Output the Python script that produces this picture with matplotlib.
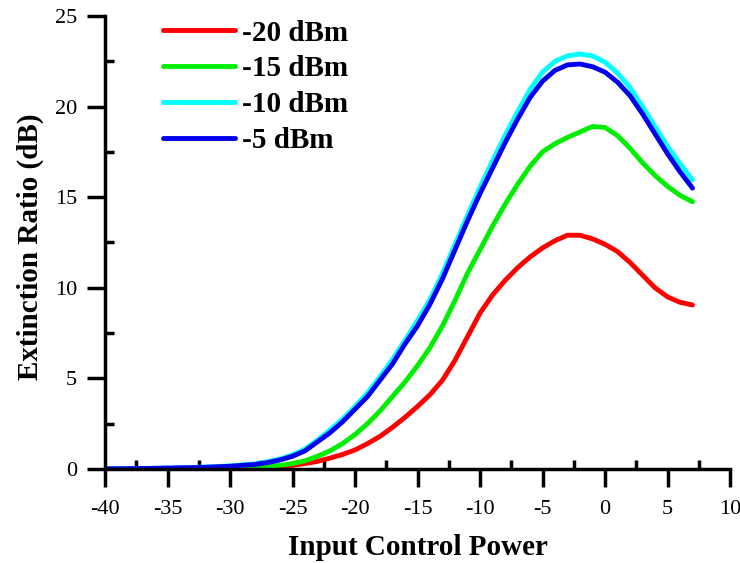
import matplotlib
matplotlib.use("Agg")
import matplotlib.pyplot as plt
from matplotlib.ticker import MultipleLocator

plt.rcParams['font.family'] = ['Liberation Serif', 'DejaVu Serif']
plt.rcParams['axes.unicode_minus'] = False

# input control power (dBm)
power = [-40, -37.5, -35, -32.5, -30, -28, -27, -26, -25, -24, -23, -22, -21, -20,
         -19, -18, -17, -16, -15, -14, -13, -12, -11, -10, -9, -8, -7, -6, -5,
         -4, -3, -2, -1, 0, 1, 2, 3, 4, 5, 6, 7]

# extinction ratio (dB) for each probe power
er_m20 = [0, 0.01, 0.02, 0.03, 0.05, 0.08, 0.1, 0.13, 0.2, 0.3, 0.42, 0.6, 0.8, 1.05,
          1.4, 1.8, 2.3, 2.85, 3.45, 4.1, 4.9, 6.0, 7.3, 8.6, 9.6, 10.4, 11.1, 11.7, 12.2,
          12.6, 12.9, 12.9, 12.7, 12.4, 12.0, 11.4, 10.7, 10.0, 9.5, 9.2, 9.05]
er_m15 = [0, 0.01, 0.02, 0.04, 0.07, 0.12, 0.15, 0.2, 0.3, 0.45, 0.7, 1.0, 1.4, 1.9,
          2.5, 3.2, 4.0, 4.8, 5.7, 6.7, 7.9, 9.3, 10.8, 12.1, 13.4, 14.6, 15.7, 16.7, 17.5,
          17.95, 18.3, 18.6, 18.9, 18.85, 18.4, 17.7, 16.9, 16.2, 15.6, 15.1, 14.75]
er_m10 = [0, 0.02, 0.05, 0.09, 0.17, 0.28, 0.4, 0.55, 0.78, 1.1, 1.6, 2.15, 2.75, 3.45,
          4.2, 5.1, 6.05, 7.1, 8.2, 9.35, 10.8, 12.4, 14.0, 15.55, 17.0, 18.4, 19.7, 20.95, 21.9,
          22.5, 22.8, 22.9, 22.8, 22.45, 21.85, 21.05, 20.0, 18.9, 17.8, 16.85, 15.95]
er_m5 = [0, 0.02, 0.05, 0.08, 0.15, 0.25, 0.35, 0.5, 0.7, 1.0, 1.5, 2.0, 2.6, 3.3,
         4.0, 4.9, 5.8, 6.9, 7.9, 9.1, 10.5, 12.1, 13.7, 15.2, 16.6, 18.0, 19.3, 20.5, 21.4,
         22.0, 22.3, 22.35, 22.2, 21.9, 21.35, 20.6, 19.6, 18.5, 17.4, 16.4, 15.5]

labels = ['-20 dBm', '-15 dBm', '-10 dBm', '-5 dBm']
colors = ['#ff0000', '#00ee00', '#00ffff', '#0000ee']

fig = plt.figure(figsize=(7.4, 5.63), dpi=100)
ax = fig.add_axes([0.1419, 0.167, 0.8446, 0.8046])

for y, lab, c in zip([er_m20, er_m15, er_m10, er_m5], labels, colors):
    ax.plot(power, y, color=c, lw=3.5, label=lab,
            solid_capstyle='round', solid_joinstyle='round')

ax.set_xlim(-40, 10)
ax.set_ylim(0, 25)
ax.xaxis.set_major_locator(MultipleLocator(5))
ax.xaxis.set_minor_locator(MultipleLocator(2.5))
ax.yaxis.set_major_locator(MultipleLocator(5))
ax.yaxis.set_minor_locator(MultipleLocator(2.5))

for s in ['top', 'right']:
    ax.spines[s].set_visible(False)
for s in ['left', 'bottom']:
    ax.spines[s].set_linewidth(2.5)

ax.tick_params(which='major', direction='out', length=13, width=2.5, labelsize=16)
ax.tick_params(axis='x', which='major', pad=9)
ax.tick_params(axis='y', which='major', pad=7)
ax.tick_params(which='minor', direction='in', length=6.5, width=2.5)

ax.set_xlabel('Input Control Power', fontsize=21, fontweight='bold')
ax.set_ylabel('Extinction Ratio (dB)', fontsize=21, fontweight='bold')
ax.xaxis.set_label_coords(0.5, -0.143)
ax.yaxis.set_label_coords(-0.098, 0.49)

ax.legend(loc='upper left', bbox_to_anchor=(0.093, 0.992), frameon=False,
          prop={'size': 21, 'weight': 'bold'}, handlelength=2.45, handletextpad=0.25,
          labelspacing=0.3, borderpad=0, borderaxespad=0)

fig.savefig('out.png', dpi=100)
